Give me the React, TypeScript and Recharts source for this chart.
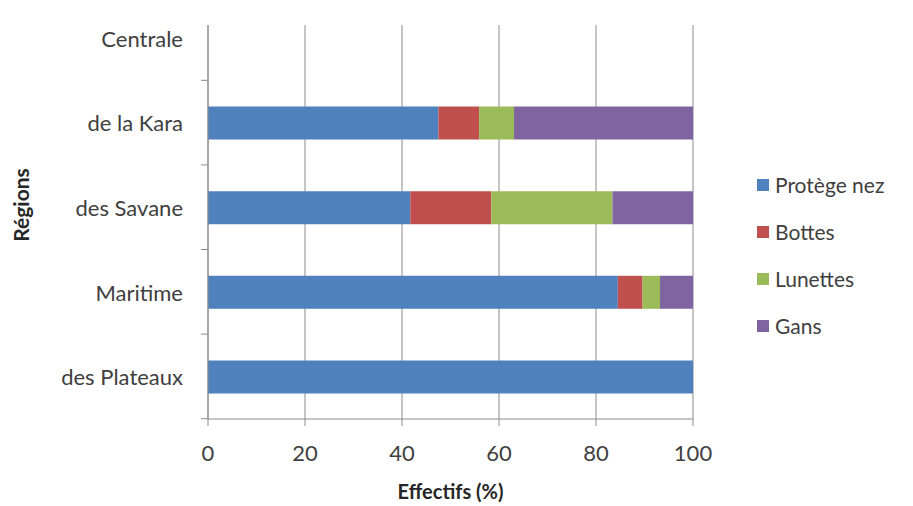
import React from 'react';
import { BarChart, Bar, XAxis, YAxis, CartesianGrid, Legend, Label } from 'recharts';

const regions = ['Centrale', 'de la Kara', 'des Savane', 'Maritime', 'des Plateaux'];
const protegeNez = [0, 47.5, 41.7, 84.5, 100];
const bottes = [0, 8.4, 16.7, 5.1, 0];
const lunettes = [0, 7.2, 25, 3.6, 0];
const gans = [0, 36.9, 16.6, 6.8, 0];
const xTicks = [0, 20, 40, 60, 80, 100];

const series = [
  { key: 'Protège nez', values: protegeNez, color: '#4F81BD' },
  { key: 'Bottes', values: bottes, color: '#C0504D' },
  { key: 'Lunettes', values: lunettes, color: '#9BBB59' },
  { key: 'Gans', values: gans, color: '#8064A2' },
];

const data = regions.map((r, i) => {
  const row: Record<string, string | number> = { region: r };
  series.forEach(s => {
    row[s.key] = s.values[i];
  });
  return row;
});

const FONT = 'Lato, "Open Sans", sans-serif';
const TEXT = '#404040';
const AXIS = '#8c8c8c';

function RegionTick(props: any) {
  const { x, y, payload } = props;
  const axisX = x + 25;
  const half = 42;
  return (
    <g>
      <text x={x} y={y} textAnchor="end" dominantBaseline="central" fontSize={22} fill={TEXT} fontFamily={FONT}>
        {payload.value}
      </text>
      <line x1={axisX - 7} x2={axisX} y1={y + half} y2={y + half} stroke={AXIS} strokeWidth={1} />
    </g>
  );
}

function LegendBox() {
  return (
    <div style={{ fontFamily: FONT }}>
      {series.map(s => (
        <div key={s.key} style={{ display: 'flex', alignItems: 'center', height: 47 }}>
          <span style={{ width: 12, height: 12, background: s.color, marginRight: 6, display: 'inline-block' }} />
          <span style={{ fontSize: 21, color: TEXT }}>{s.key}</span>
        </div>
      ))}
    </div>
  );
}

export default function App() {
  return (
    <div style={{ position: 'absolute', left: 0, top: 0, background: '#fff' }}>
      <BarChart
        width={913}
        height={506}
        data={data}
        layout="vertical"
        margin={{ top: 25, right: 60, bottom: 27, left: 0 }}
        barSize={33}
      >
        <CartesianGrid horizontal={false} stroke="#a6a6a6" strokeWidth={1.3} />
        <XAxis
          type="number"
          domain={[0, 100]}
          ticks={xTicks}
          height={60}
          tickSize={7}
          tickMargin={19}
          stroke={AXIS}
          tick={{ fontSize: 22, fill: TEXT, fontFamily: FONT }}
        >
          <Label
            value="Effectifs (%)"
            position="bottom"
            offset={6}
            style={{ fontSize: 20, fontWeight: 'bold', fill: '#262626', fontFamily: FONT }}
          />
        </XAxis>
        <YAxis
          type="category"
          dataKey="region"
          width={208}
          padding={{ top: -29, bottom: 0 }}
          tickLine={false}
          tickSize={6}
          tickMargin={19}
          stroke={AXIS}
          tick={<RegionTick />}
        >
          <Label
            value="Régions"
            angle={-90}
            position="insideLeft"
            offset={22}
            dy={-17}
            style={{ fontSize: 21, fontWeight: 'bold', fill: '#262626', fontFamily: FONT, textAnchor: 'middle' }}
          />
        </YAxis>
        <Legend
          layout="vertical"
          verticalAlign="top"
          align="right"
          content={<LegendBox />}
          wrapperStyle={{ left: 757, top: 161, width: 160 }}
        />
        {series.map(s => (
          <Bar key={s.key} dataKey={s.key} stackId="a" fill={s.color} isAnimationActive={false} />
        ))}
      </BarChart>
    </div>
  );
}
